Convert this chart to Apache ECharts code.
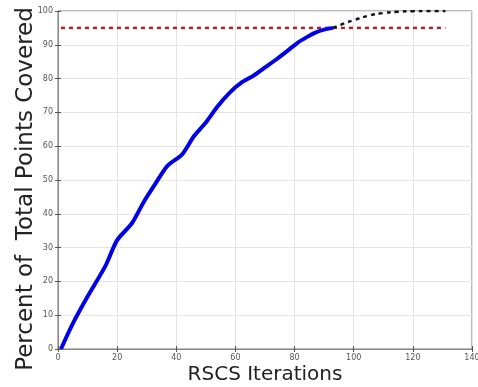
<!DOCTYPE html>
<html><head><meta charset="utf-8">
<script src="https://cdn.jsdelivr.net/npm/echarts@6/dist/echarts.min.js"></script>
<style>html,body{margin:0;padding:0;background:#fff}#c{width:478px;height:387px}</style>
</head><body><div id="c"></div>
<script>
const coverX = [1,5,10,16,20,25,29,33,37,42,46,50,54,58,62,66,70,74,78,81,84,87,90,93];
const coverY = [0,7.5,15.5,24.5,32.2,37.2,43.5,49,54.2,57.6,63,67,71.8,75.8,78.8,80.8,83.3,85.8,88.5,90.6,92.2,93.6,94.5,95];
const extX = [93,97,100,105,110,115,120,125,131];
const extY = [95,96.4,97.3,98.6,99.4,99.8,99.95,100,100];
const thrX = [1,131];
const thrY = [95,95];
const xTicks = [0,20,40,60,80,100,120,140];
const yTicks = [0,10,20,30,40,50,60,70,80,90,100];

const zip = (a,b)=>a.map((v,i)=>[v,b[i]]);
const chart = echarts.init(document.getElementById('c'));
const lbl = {color:'#555', fontSize:8, fontFamily:'DejaVu Sans'};
chart.setOption({
  animation:false,
  grid:{left:58,right:6,top:11,bottom:38,show:true,borderColor:'#777',borderWidth:1,
        containLabel:false,outerBoundsMode:'none'},
  xAxis:[{type:'value',min:0,max:140,interval:20,
    name:'RSCS Iterations',nameLocation:'middle',nameGap:16,nameMoveOverlap:false,
    nameTextStyle:{fontSize:20,color:'#222',fontFamily:'DejaVu Sans'},
    axisLine:{show:true,lineStyle:{color:'#888'}},
    axisTick:{show:true,inside:true,length:3,lineStyle:{color:'#555'}},
    axisLabel:Object.assign({margin:5},lbl),
    splitLine:{show:true,lineStyle:{color:'#e4e4e4'}}},
   {type:'value',position:'top',min:0,max:140,interval:20,
    axisLine:{show:false},axisTick:{show:true,inside:true,length:3,lineStyle:{color:'#555'}},
    axisLabel:{show:false},splitLine:{show:false}}],
  yAxis:[{type:'value',min:0,max:100,interval:10,
    name:'Percent of  Total Points Covered',nameLocation:'middle',nameGap:20,nameMoveOverlap:false,
    nameTextStyle:{fontSize:23,color:'#222',fontFamily:'DejaVu Sans',padding:[0,18,0,0]},
    axisLine:{show:true,lineStyle:{color:'#888'}},
    axisTick:{show:true,inside:true,length:3,lineStyle:{color:'#555'}},
    axisLabel:Object.assign({margin:5},lbl),
    splitLine:{show:true,lineStyle:{color:'#e4e4e4'}}},
   {type:'value',position:'right',min:0,max:100,interval:10,
    axisLine:{show:false},axisTick:{show:true,inside:true,length:3,lineStyle:{color:'#555'}},
    axisLabel:{show:false},splitLine:{show:false}}],
  series:[
    {type:'line',data:zip(thrX,thrY),showSymbol:false,symbol:'none',
     lineStyle:{color:'#b22222',width:2.5,type:[4,4]}},
    {type:'line',data:zip(extX,extY),showSymbol:false,symbol:'none',smooth:0.4,
     lineStyle:{color:'#111',width:2.5,type:[4,4]}},
    {type:'line',data:zip(coverX,coverY),showSymbol:false,symbol:'none',smooth:0.25,
     lineStyle:{color:'#0000e6',width:4}}
  ]
});
</script></body></html>
